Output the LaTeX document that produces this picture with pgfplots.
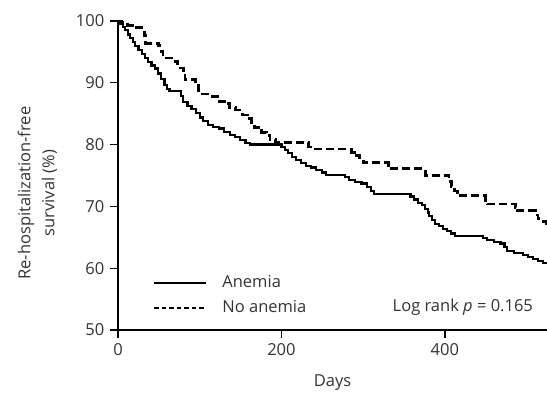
\documentclass[border=0pt]{standalone}
\usepackage{fontspec}
\setmainfont{Open Sans}
\usepackage{pgfplots}
\pgfplotsset{compat=1.18}
\definecolor{txt}{HTML}{333333}
\pgfplotstableread{
day val
0 100
3 99.5
6 99
9 98.5
12 97.8
15 97.2
18 96.6
21 96
25 95.3
29 94.6
33 94
37 93.4
41 92.8
45 92.3
49 91.5
53 90.6
57 89.6
60 89
63 88.7
77 87.8
80 86.9
85 86.3
90 85.8
95 85.1
100 84.4
104 83.8
110 83.2
116 82.8
124 82.6
130 82.1
137 81.6
143 81.2
149 80.7
156 80.3
162 80.0
200 79.6
204 79.1
208 78.6
213 78.0
218 77.5
224 77.0
230 76.6
236 76.3
242 75.9
250 75.5
255 75.1
278 74.7
283 74.3
290 74.0
298 73.7
305 73.2
310 72.5
313 72.0
358 71.6
362 71.1
367 70.6
372 70.2
376 69.6
379 69.0
381 68.4
384 67.8
388 67.2
393 66.8
398 66.4
403 66.0
408 65.6
412 65.2
447 64.9
452 64.6
460 64.3
468 64.0
473 63.4
476 62.8
485 62.5
496 62.2
502 61.8
508 61.5
514 61.2
520 60.9
525 60.7
}\anemia
\pgfplotstableread{
day val
0 100
5 99.7
12 99.3
20 98.9
32 97.6
34 96.4
50 96.0
53 95.0
55 94.0
68 93.5
73 92.4
80 91.6
82 90.5
95 89.8
99 88.7
101 88.2
115 87.8
124 87.0
130 86.6
136 86.0
144 85.6
152 84.8
158 84.2
163 83.3
167 82.8
176 82.0
182 81.5
186 80.8
193 80.3
233 79.6
238 79.3
286 78.7
289 78.2
296 77.6
300 77.1
331 76.1
376 75.0
405 74.0
408 73.2
412 72.5
415 71.7
450 71.0
452 70.4
486 69.8
489 69.3
511 68.6
514 68.0
520 67.6
524 67.2
525 67.2
}\noanemia
\begin{document}
\fontsize{16.5pt}{20pt}\selectfont
\begin{tikzpicture}[x=1pt,y=1pt]
\path[use as bounding box] (-118,-71) rectangle (429,330);
\begin{axis}[
  at={(0,0)}, anchor=south west,
  scale only axis, width=429pt, height=309pt,
  xmin=0, xmax=525, ymin=50, ymax=100,
  axis lines*=left,
  xtick={0,200,400}, ytick={50,60,...,100},
  tick align=outside, major tick length=8pt,
  tick style={line width=1.3pt, black},
  axis line style={line width=1.3pt, black},
  every tick label/.append style={font=\fontsize{16.5pt}{20pt}\selectfont, text=txt},
  /pgf/number format/assume math mode=true,
  xlabel={Days},
  ylabel={Re-hospitalization-free\\survival (\%)},
  label style={font=\fontsize{16.5pt}{24pt}\selectfont, text=txt},
  xlabel style={at={(axis description cs:0.5,-0.1715)}, anchor=center},
  ylabel style={align=center, at={(axis description cs:-0.188,0.443)}, anchor=center},
  legend style={at={(axis description cs:0.0746,0.185)}, anchor=north west,
    draw=none, fill=none, font=\fontsize{16.5pt}{20pt}\selectfont, text=txt,
    nodes={inner sep=0pt, text height=12pt, text depth=4pt},
    row sep=9pt, column sep=15pt},
  legend cell align=left,
  legend image code/.code={\draw[#1] (0pt,0pt) -- (52pt,0pt);},
  clip=false,
]
\addplot[const plot, black, line width=2.2pt] table[x=day,y=val] {\anemia};
\addlegendentry{Anemia}
\addplot[const plot, draw=black, line width=2.8pt, dash pattern=on 8pt off 4pt,
  legend image code/.code={\draw[black, line width=1.8pt, dash pattern=on 4.5pt off 3pt] (0pt,0pt) -- (52pt,0pt);}]
  table[x=day,y=val] {\noanemia};
\addlegendentry{No anemia}
\node[anchor=east, text=txt, font=\fontsize{16.5pt}{20pt}\selectfont, inner sep=0pt] at (axis cs:508,53.7) {Log rank \textit{p} = 0.165};
\end{axis}
\end{tikzpicture}
\end{document}
